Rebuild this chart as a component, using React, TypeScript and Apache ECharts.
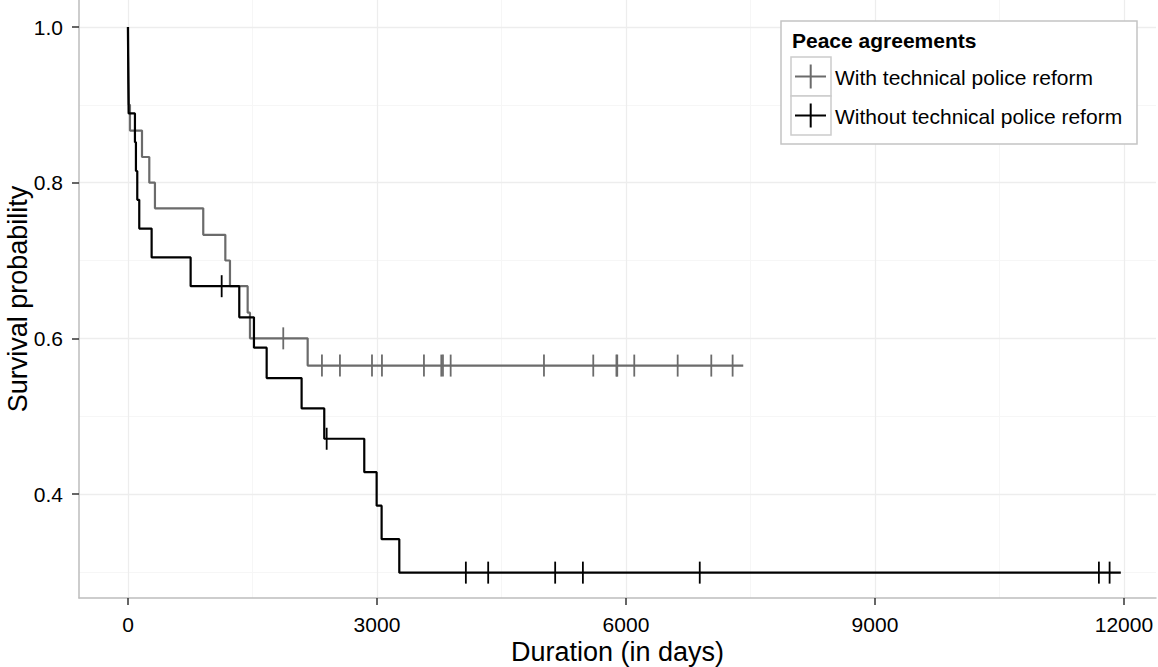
import React, { useEffect, useRef } from "react";
import * as echarts from "echarts";

// ---- data ----
const seriesNames = ["With technical police reform", "Without technical police reform"];

const withTimes = [0, 2, 5, 10, 24, 169, 257, 325, 907, 1173, 1229, 1442, 1470, 2165];
const withSurv = [1, 0.967, 0.933, 0.9, 0.867, 0.833, 0.8, 0.767, 0.733, 0.7, 0.667, 0.633, 0.6, 0.565];
const withEnd = 7413;
const withCensored = [1871, 2337, 2554, 2940, 3060, 3566, 3775, 3795, 3888, 5012, 5606, 5885, 5895, 6100, 6623, 7028, 7285];

const withoutTimes = [0, 2, 5, 8, 84, 96, 112, 136, 285, 755, 1341, 1518, 1671, 2092, 2365, 2847, 2996, 3056, 3269];
const withoutSurv = [1, 0.963, 0.926, 0.889, 0.852, 0.815, 0.778, 0.741, 0.704, 0.667, 0.627, 0.588, 0.549, 0.51, 0.471, 0.428, 0.385, 0.342, 0.299];
const withoutEnd = 11962;
const withoutCensored = [1129, 2394, 4071, 4340, 5147, 5481, 6889, 11698, 11827];

const xTicks = [0, 3000, 6000, 9000, 12000];
const xMinor = [1500, 4500, 7500, 10500];
const yTicks = [0.4, 0.6, 0.8, 1.0];
const yMinor = [0.3, 0.5, 0.7, 0.9];

const FONT = '"Liberation Sans", Arial, Helvetica, sans-serif';
const GRAY = "#6b6b6b";
const BLACK = "#000000";

function survAt(times: number[], vals: number[], t: number): number {
  let v = vals[0];
  for (let i = 0; i < times.length; i++) if (times[i] <= t) v = vals[i];
  return v;
}

function stepData(times: number[], vals: number[], end: number) {
  const pts = times.map((t, i) => [t, vals[i]]);
  pts.push([end, vals[vals.length - 1]]);
  return pts;
}

function legendGraphics() {
  const els: any[] = [];
  els.push({
    type: "rect",
    shape: { x: 781, y: 21, width: 356, height: 123 },
    style: { fill: "#ffffff", stroke: "#c4c4c4", lineWidth: 1.5 },
    z: 10,
  });
  els.push({
    type: "text",
    x: 792,
    y: 40,
    style: {
      text: "Peace agreements",
      font: "bold 21px " + FONT,
      fill: "#000",
      align: "left",
      verticalAlign: "middle",
      textAlign: "left",
      textVerticalAlign: "middle",
    },
    z: 11,
  });
  const colors = [GRAY, BLACK];
  seriesNames.forEach((name, i) => {
    const top = 57 + i * 39;
    const cy = top + 19.5;
    els.push({
      type: "rect",
      shape: { x: 791, y: top, width: 40, height: 39 },
      style: { fill: "#ffffff", stroke: "#cccccc", lineWidth: 1.5 },
      z: 11,
    });
    els.push({
      type: "line",
      shape: { x1: 795, y1: cy, x2: 826, y2: cy },
      style: { stroke: colors[i], lineWidth: 2 },
      z: 12,
    });
    els.push({
      type: "line",
      shape: { x1: 810.7, y1: cy - 12, x2: 810.7, y2: cy + 12 },
      style: { stroke: colors[i], lineWidth: 2 },
      z: 12,
    });
    els.push({
      type: "text",
      x: 835,
      y: cy + 0.5,
      style: {
        text: name,
        font: "21px " + FONT,
        fill: "#000",
        align: "left",
        verticalAlign: "middle",
        textAlign: "left",
        textVerticalAlign: "middle",
      },
      z: 12,
    });
  });
  return els;
}

export default function App() {
  const ref = useRef<HTMLDivElement>(null);

  useEffect(() => {
    if (!ref.current) return;
    const chart = echarts.init(ref.current, null, { renderer: "svg" });

    const majorStyle = { color: "#ededed", width: 1.3, type: "solid" };
    const minorStyle = { color: "#f6f6f6", width: 1.1, type: "solid" };
    const gridLines: any[] = [
      ...xMinor.map((v) => ({ xAxis: v, lineStyle: minorStyle })),
      ...yMinor.map((v) => ({ yAxis: v, lineStyle: minorStyle })),
      ...xTicks.map((v) => ({ xAxis: v, lineStyle: majorStyle })),
      ...yTicks.map((v) => ({ yAxis: v, lineStyle: majorStyle })),
    ];

    const option: any = {
      animation: false,
      backgroundColor: "#ffffff",
      grid: {
        left: 79,
        right: 2,
        top: 0,
        bottom: 69,
        containLabel: false,
        outerBoundsMode: "none",
      },
      xAxis: {
        type: "value",
        min: -590,
        max: 12386,
        name: "Duration (in days)",
        nameLocation: "middle",
        nameGap: 40,
        nameMoveOverlap: false,
        nameTextStyle: { fontSize: 27, color: "#000", fontFamily: FONT },
        axisLine: { show: true, onZero: false, lineStyle: { color: "#bdbdbd", width: 1.5 } },
        axisTick: { show: true, length: 7, lineStyle: { color: "#333", width: 1.5 }, customValues: xTicks },
        axisLabel: {
          customValues: xTicks,
          fontSize: 21,
          color: "#000",
          margin: 16,
          fontFamily: FONT,
          formatter: (v: number) => String(Math.round(v)),
        },
        splitLine: { show: false },
        z: 1,
      },
      yAxis: {
        type: "value",
        min: 0.2664,
        max: 1.0347,
        name: "Survival probability",
        nameLocation: "middle",
        nameGap: 48,
        nameMoveOverlap: false,
        nameTextStyle: { fontSize: 27, color: "#000", fontFamily: FONT },
        axisLine: { show: true, onZero: false, lineStyle: { color: "#bdbdbd", width: 1.5 } },
        axisTick: { show: true, length: 7, lineStyle: { color: "#333", width: 1.5 }, customValues: yTicks },
        axisLabel: {
          customValues: yTicks,
          fontSize: 21,
          color: "#000",
          margin: 16,
          fontFamily: FONT,
          formatter: (v: number) => v.toFixed(1),
        },
        splitLine: { show: false },
        z: 1,
      },
      series: [
        {
          type: "line",
          data: [],
          z: 0,
          silent: true,
          markLine: {
            z: 0,
            silent: true,
            symbol: ["none", "none"],
            label: { show: false },
            emphasis: { disabled: true },
            data: gridLines,
          },
        },
        {
          name: seriesNames[0],
          type: "line",
          step: "end",
          showSymbol: false,
          data: stepData(withTimes, withSurv, withEnd),
          lineStyle: { color: GRAY, width: 2.2 },
          itemStyle: { color: GRAY },
          z: 6,
        },
        {
          name: seriesNames[0] + " censored",
          type: "scatter",
          symbol: "rect",
          symbolSize: [1.8, 22],
          data: withCensored.map((t) => [t, survAt(withTimes, withSurv, t)]),
          itemStyle: { color: GRAY, opacity: 1 },
          z: 7,
        },
        {
          name: seriesNames[1],
          type: "line",
          step: "end",
          showSymbol: false,
          data: stepData(withoutTimes, withoutSurv, withoutEnd),
          lineStyle: { color: BLACK, width: 2.2 },
          itemStyle: { color: BLACK },
          z: 8,
        },
        {
          name: seriesNames[1] + " censored",
          type: "scatter",
          symbol: "rect",
          symbolSize: [1.8, 22],
          data: withoutCensored.map((t) => [t, survAt(withoutTimes, withoutSurv, t)]),
          itemStyle: { color: BLACK, opacity: 1 },
          z: 9,
        },
      ],
      graphic: legendGraphics(),
    };

    chart.setOption(option);
    return () => chart.dispose();
  }, []);

  return (
    <div
      ref={ref}
      style={{ position: "fixed", left: 0, top: 0, width: 1158, height: 667, background: "#fff" }}
    />
  );
}
